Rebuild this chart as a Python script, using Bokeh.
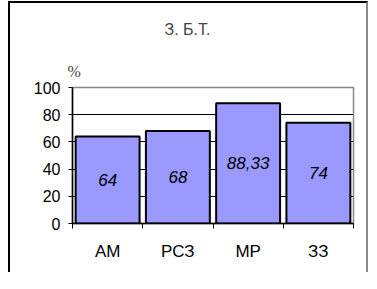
from bokeh.plotting import figure
from bokeh.models import FixedTicker, Title, Range1d, ColumnDataSource
from bokeh.core.properties import value
from bokeh.embed import file_html
from bokeh.resources import INLINE

categories = ["АМ", "РСЗ", "МР", "ЗЗ"]
values = [64, 68, 88.33, 74]
y_ticks = [0, 20, 40, 60, 80, 100]
title_text = "З. Б.Т."
unit_text = "%"

xs = [i + 0.5 for i in range(len(categories))]
labels = [("%g" % v).replace(".", ",") for v in values]
src = ColumnDataSource(dict(x=xs, top=values, ly=[v / 2 for v in values], lab=labels))

p = figure(width=360, height=271, output_backend="svg", toolbar_location=None,
           x_range=Range1d(0, 4), y_range=Range1d(0, 100),
           min_border_left=62, min_border_right=17, min_border_top=82, min_border_bottom=51)
p.title = None
p.margin = (1, 0, 0, 8)
p.styles = {"border-top": "2px solid black", "border-left": "2px solid black",
            "border-right": "2px solid #888888"}
p.background_fill_color = "white"
p.border_fill_color = "white"
p.outline_line_color = "#888888"
p.outline_line_width = 1.5

p.xgrid.visible = False
p.ygrid.ticker = FixedTicker(ticks=y_ticks)
p.ygrid.grid_line_color = "black"
p.ygrid.grid_line_width = 1

p.vbar(x="x", top="top", width=0.91, bottom=0, source=src,
       fill_color="#9999FF", line_color="black", line_width=2)
p.text(x="x", y="ly", text="lab", source=src, text_align="center", text_baseline="middle",
       text_font=value("Liberation Sans"), text_font_style="italic", text_font_size="17px",
       text_color="black")

# axes
p.yaxis.ticker = FixedTicker(ticks=y_ticks)
p.yaxis.axis_line_color = "black"
p.yaxis.axis_line_width = 1.5
p.yaxis.major_tick_in = 0
p.yaxis.major_tick_out = 4
p.yaxis.minor_tick_line_color = None
p.yaxis.major_label_standoff = 8
p.yaxis.major_label_text_font = "Liberation Sans"
p.yaxis.major_label_text_font_size = "16px"
p.yaxis.major_label_text_color = "black"

p.xaxis.ticker = FixedTicker(ticks=xs, minor_ticks=list(range(len(categories) + 1)))
p.xaxis.major_label_overrides = {x: c for x, c in zip(xs, categories)}
p.xaxis.axis_line_color = "black"
p.xaxis.axis_line_width = 1.5
p.xaxis.major_tick_line_color = None
p.xaxis.minor_tick_in = 0
p.xaxis.minor_tick_out = 5
p.xaxis.minor_tick_line_color = "black"
p.xaxis.major_label_standoff = 12
p.xaxis.major_label_text_font = "Liberation Sans"
p.xaxis.major_label_text_font_size = "17px"
p.xaxis.major_label_text_color = "black"

p.add_layout(Title(text=unit_text, align="left", offset=-5, text_font="Liberation Serif",
                   text_font_size="16px", text_font_style="normal", standoff=16), "above")
p.add_layout(Title(text=title_text, align="left", offset=92, text_font="Liberation Sans",
                   text_font_size="16px", text_font_style="normal", standoff=30), "above")

open("out.html", "w").write(file_html(p, INLINE))
